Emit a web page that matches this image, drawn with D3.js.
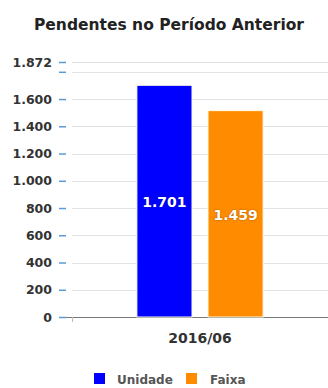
<!DOCTYPE html>
<html>
<head>
<meta charset="utf-8">
<script src="https://cdn.jsdelivr.net/npm/d3@7"></script>
<style>
	body { margin: 0; background: #fff; }
	text { font-family: "DejaVu Sans", sans-serif; font-weight: bold; }
</style>
</head>
<body>
<svg></svg>
<script>
var width = 328;
var height = 388;

// data
var categories = ['2016/06'];
var series = ['Unidade', 'Faixa'];
var colors = ['#0000ff', '#ff8c00'];
// bar heights as drawn, and the values printed on them
// (the orange bar is drawn taller than its printed value in the source)
var barValues = [1701, 1515];
var labelValues = [1701, 1459];
var yTicks = [0, 200, 400, 600, 800, 1000, 1200, 1400, 1600, 1800, 1872];
var yMax = 1872;

var plot = { left: 72, right: 328, top: 62, bottom: 317 };

var fmt = function(d) {
	return d3.format(',')(d).replace(/,/g, '.');
};

var svg = d3.select('svg')
	.attr('width', width)
	.attr('height', height);

var y = d3.scaleLinear()
	.domain([0, yMax])
	.range([plot.bottom, plot.top]);

var x0 = d3.scaleBand()
	.domain(categories)
	.range([plot.left, plot.right])
	.paddingInner(0)
	.paddingOuter(0.4);

var x1 = d3.scaleBand()
	.domain(series)
	.range([0, x0.bandwidth()])
	.paddingInner(0.225)
	.paddingOuter(0.1125);

// title
svg.append('text')
	.attr('x', 169)
	.attr('y', 30)
	.attr('text-anchor', 'middle')
	.attr('fill', '#222')
	.style('font-size', '15.5px')
	.text('Pendentes no Período Anterior');

// gridlines
svg.append('g')
	.selectAll('line')
	.data(yTicks)
	.join('line')
	.attr('x1', plot.left)
	.attr('x2', plot.right)
	.attr('y1', d => Math.round(y(d)) + 0.5)
	.attr('y2', d => Math.round(y(d)) + 0.5)
	.attr('stroke', '#e3e3e3')
	.attr('stroke-width', 1);

// y axis: blue tick dashes + labels
var yAxis = d3.axisLeft(y)
	.tickValues(yTicks)
	.tickSize(7)
	.tickPadding(7)
	.tickFormat(d => d === 1800 ? '' : fmt(d));

var gy = svg.append('g')
	.attr('transform', `translate(66,0)`)
	.call(yAxis);
gy.select('.domain').remove();
gy.selectAll('.tick line').attr('stroke', '#5b9bd5').attr('stroke-width', 1.5);
gy.selectAll('.tick text')
	.attr('fill', '#333')
	.style('font-size', '12.5px');

// x axis line
svg.append('line')
	.attr('x1', 66)
	.attr('x2', plot.right)
	.attr('y1', plot.bottom + 0.5)
	.attr('y2', plot.bottom + 0.5)
	.attr('stroke', '#777');

svg.append('line')
	.attr('x1', plot.left + 0.5)
	.attr('x2', plot.left + 0.5)
	.attr('y1', plot.bottom)
	.attr('y2', plot.bottom + 5)
	.attr('stroke', '#bbb');

svg.append('g')
	.selectAll('text')
	.data(categories)
	.join('text')
	.attr('x', d => x0(d) + x0.bandwidth() / 2)
	.attr('y', 343)
	.attr('text-anchor', 'middle')
	.attr('fill', '#333')
	.style('font-size', '14px')
	.text(d => d);

// bars
var bars = series.map((s, i) => ({ cat: categories[0], s: s, v: barValues[i], label: labelValues[i], color: colors[i] }));

var g = svg.append('g');
g.selectAll('rect')
	.data(bars)
	.join('rect')
	.attr('x', d => x0(d.cat) + x1(d.s))
	.attr('y', d => y(d.v))
	.attr('width', x1.bandwidth())
	.attr('height', d => y(0) - y(d.v))
	.attr('fill', d => d.color)
	.attr('stroke', '#fffbe8')
	.attr('stroke-width', 1);

g.selectAll('text')
	.data(bars)
	.join('text')
	.attr('x', d => x0(d.cat) + x1(d.s) + x1.bandwidth() / 2)
	.attr('y', d => (y(d.v) + y(0)) / 2)
	.attr('dy', '0.42em')
	.attr('text-anchor', 'middle')
	.attr('fill', '#fff')
	.style('font-size', '14px')
	.style('text-shadow', '0 0 2px rgba(0,0,0,0.4)')
	.text(d => fmt(d.label));

// legend
var legendX = [94, 186];
var legend = svg.append('g')
	.selectAll('g')
	.data(series)
	.join('g')
	.attr('transform', (d, i) => `translate(${legendX[i]},373)`);

legend.append('rect')
	.attr('width', 11)
	.attr('height', 11)
	.attr('fill', (d, i) => colors[i]);

legend.append('text')
	.attr('x', (d, i) => i === 0 ? 23 : 24)
	.attr('y', 11)
	.attr('fill', '#555')
	.style('font-size', '12px')
	.text(d => d);
</script>
</body>
</html>
